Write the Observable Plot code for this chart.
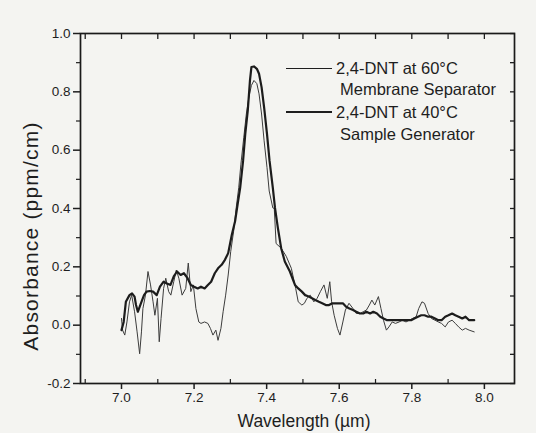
<!DOCTYPE html>
<html>
<head>
<meta charset="utf-8">
<script src="https://cdn.jsdelivr.net/npm/d3@7"></script>
<script src="https://cdn.jsdelivr.net/npm/@observablehq/plot@0.6"></script>
<style>
  html, body { margin: 0; padding: 0; background: #f4f4f1; }
  #wrap { position: relative; width: 536px; height: 433px; overflow: hidden; font-family: "Liberation Sans", Arial, Helvetica, sans-serif; color: #222; }
  #chart svg { display: block; background: transparent; }
  .lbl { position: absolute; white-space: nowrap; font-size: 16.5px; line-height: 1; color: #1e1e1e; }
  .lline { position: absolute; background: #1e1e1e; }
</style>
</head>
<body>
<div id="wrap">
  <div id="chart"></div>
</div>
<script>
// Series: 2,4-DNT at 60°C, Membrane Separator (thin line)
const thinX = [7.000,7.003,7.009,7.015,7.022,7.028,7.036,7.043,7.050,7.055,7.059,7.066,7.073,7.080,7.087,7.092,7.099,7.104,7.109,7.116,7.122,7.130,7.136,7.144,7.151,7.158,7.167,7.177,7.184,7.191,7.198,7.205,7.213,7.219,7.229,7.238,7.245,7.252,7.260,7.266,7.274,7.280,7.287,7.294,7.301,7.309,7.316,7.323,7.329,7.337,7.344,7.351,7.358,7.365,7.373,7.379,7.386,7.393,7.401,7.407,7.417,7.421,7.426,7.440,7.454,7.468,7.480,7.487,7.497,7.504,7.511,7.520,7.530,7.539,7.548,7.558,7.567,7.574,7.579,7.586,7.595,7.602,7.610,7.617,7.627,7.638,7.647,7.657,7.666,7.675,7.683,7.690,7.698,7.708,7.715,7.722,7.730,7.737,7.746,7.755,7.765,7.774,7.784,7.793,7.802,7.812,7.819,7.828,7.835,7.845,7.854,7.864,7.873,7.882,7.892,7.901,7.911,7.920,7.929,7.939,7.948,7.958,7.972];
const thinY = [0.023,-0.017,-0.034,0.011,0.080,0.103,0.046,-0.023,-0.098,-0.023,0.057,0.103,0.184,0.138,0.080,0.034,0.092,-0.057,0.023,0.126,0.161,0.115,0.103,0.149,0.189,0.161,0.103,0.126,0.213,0.115,0.138,0.057,0.011,0.006,0.011,0.006,-0.011,-0.034,-0.017,-0.052,-0.011,0.046,0.103,0.172,0.253,0.322,0.402,0.471,0.552,0.644,0.724,0.782,0.822,0.839,0.828,0.793,0.724,0.632,0.540,0.460,0.402,0.400,0.280,0.264,0.236,0.195,0.126,0.080,0.069,0.075,0.092,0.103,0.080,0.092,0.115,0.138,0.092,0.149,0.080,0.034,-0.011,-0.034,0.011,0.052,0.075,0.057,0.040,0.040,0.046,0.052,0.069,0.086,0.069,0.098,0.057,0.017,-0.017,-0.006,0.011,0.006,0.011,0.017,0.011,0.017,0.023,0.029,0.057,0.080,0.075,0.040,0.023,0.017,0.011,0.006,-0.006,0.011,0.017,0.006,-0.006,-0.017,-0.011,-0.017,-0.023];

// Series: 2,4-DNT at 40°C, Sample Generator (thick line)
const thickX = [7.000,7.006,7.012,7.022,7.029,7.036,7.040,7.045,7.050,7.055,7.062,7.069,7.078,7.087,7.097,7.106,7.116,7.125,7.135,7.144,7.153,7.163,7.172,7.182,7.191,7.200,7.210,7.219,7.229,7.238,7.247,7.257,7.266,7.276,7.285,7.294,7.304,7.313,7.320,7.327,7.335,7.341,7.348,7.354,7.358,7.365,7.373,7.379,7.386,7.393,7.401,7.408,7.417,7.423,7.431,7.440,7.450,7.464,7.478,7.487,7.497,7.506,7.516,7.525,7.534,7.544,7.553,7.563,7.572,7.581,7.591,7.600,7.610,7.619,7.628,7.638,7.647,7.657,7.666,7.675,7.685,7.694,7.704,7.713,7.722,7.732,7.741,7.751,7.760,7.770,7.779,7.788,7.798,7.807,7.817,7.826,7.835,7.845,7.854,7.864,7.873,7.882,7.892,7.901,7.911,7.920,7.929,7.939,7.948,7.958,7.972];
const thickY = [-0.017,0.011,0.080,0.103,0.109,0.098,0.069,0.046,0.063,0.080,0.103,0.115,0.117,0.115,0.103,0.132,0.149,0.143,0.138,0.167,0.184,0.172,0.178,0.161,0.138,0.132,0.126,0.132,0.126,0.138,0.149,0.178,0.195,0.207,0.224,0.247,0.310,0.356,0.414,0.471,0.563,0.655,0.736,0.839,0.885,0.887,0.879,0.862,0.816,0.747,0.655,0.563,0.471,0.402,0.333,0.264,0.218,0.184,0.138,0.126,0.115,0.103,0.098,0.092,0.086,0.080,0.075,0.069,0.069,0.075,0.075,0.075,0.075,0.063,0.057,0.052,0.046,0.040,0.040,0.046,0.040,0.046,0.040,0.029,0.023,0.017,0.017,0.017,0.017,0.017,0.017,0.017,0.017,0.023,0.029,0.034,0.034,0.029,0.029,0.023,0.017,0.017,0.029,0.034,0.040,0.034,0.029,0.023,0.029,0.017,0.017];

// Tick values
const xTicks = [7.0, 7.2, 7.4, 7.6, 7.8, 8.0];
const xMinor = [6.9, 7.1, 7.3, 7.5, 7.7, 7.9];
const yTicks = [-0.2, 0.0, 0.2, 0.4, 0.6, 0.8, 1.0];
const yMinor = [-0.1, 0.1, 0.3, 0.5, 0.7, 0.9];

const seriesNames = ["2,4-DNT at 60°C", "2,4-DNT at 40°C"];
const seriesSub = ["Membrane Separator", "Sample Generator"];

const thin = thinX.map((x, i) => ({x, y: thinY[i]}));
const thick = thickX.map((x, i) => ({x, y: thickY[i]}));
const blank = () => "";

const chart = Plot.plot({
  width: 536,
  height: 433,
  marginLeft: 80,
  marginRight: 22,
  marginTop: 33,
  marginBottom: 50,
  style: {background: "transparent", fontFamily: "'Liberation Sans', Arial, sans-serif", color: "#1e1e1e"},
  x: {domain: [6.887, 8.083]},
  y: {domain: [-0.2, 1.0]},
  marks: [
    Plot.line(thin, {x: "x", y: "y", stroke: "#3c3c3c", strokeWidth: 1}),
    Plot.line(thick, {x: "x", y: "y", stroke: "#1c1c1c", strokeWidth: 2.2}),
    Plot.frame({stroke: "#1a1a1a", strokeWidth: 1.7}),
    Plot.axisY(yTicks, {anchor: "left", tickSize: 7, tickPadding: 3, tickFormat: d => d.toFixed(1), fontSize: 13.5, label: null, strokeWidth: 1.5}),
    Plot.axisY(yMinor, {anchor: "left", tickSize: 4, tickFormat: blank, label: null, strokeWidth: 1.2}),
    Plot.axisY(yTicks.concat(yMinor), {anchor: "right", tickSize: 5, dx: -5, tickFormat: blank, label: null, strokeWidth: 1.3}),
    Plot.axisX(xTicks, {anchor: "bottom", tickSize: 6, tickPadding: 3, tickFormat: d => d.toFixed(1), fontSize: 13.5, label: null, strokeWidth: 1.5}),
    Plot.axisX(xMinor, {anchor: "bottom", tickSize: 4, dy: -4, tickFormat: blank, label: null, strokeWidth: 1.2}),
    Plot.axisX(xTicks.concat(xMinor), {anchor: "top", tickSize: 5, dy: 5, tickFormat: blank, label: null, strokeWidth: 1.3})
  ]
});
document.getElementById("chart").appendChild(chart);

const wrap = document.getElementById("wrap");
function addLabel(text, left, top, extra) {
  const d = document.createElement("div");
  d.className = "lbl";
  d.textContent = text;
  d.style.left = left + "px";
  d.style.top = top + "px";
  if (extra) Object.assign(d.style, extra);
  wrap.appendChild(d);
}
function addLine(left, top, w, h) {
  const d = document.createElement("div");
  d.className = "lline";
  Object.assign(d.style, {left: left + "px", top: top + "px", width: w + "px", height: h + "px"});
  wrap.appendChild(d);
}
// Legend
addLine(286, 68, 46, 1);
addLabel(seriesNames[0], 336, 60);
addLabel(seriesSub[0], 340, 81);
addLine(286, 111, 46, 2);
addLabel(seriesNames[1], 336, 104);
addLabel(seriesSub[1], 340, 126);
// Axis titles
addLabel("Wavelength (µm)", 304, 413, {transform: "translateX(-50%)", fontSize: "17.5px"});
addLabel("Absorbance (ppm/cm)", 30, 236, {transform: "translate(-50%, -50%) rotate(-90deg)", fontSize: "21px", letterSpacing: "1.2px"});
</script>
</body>
</html>
